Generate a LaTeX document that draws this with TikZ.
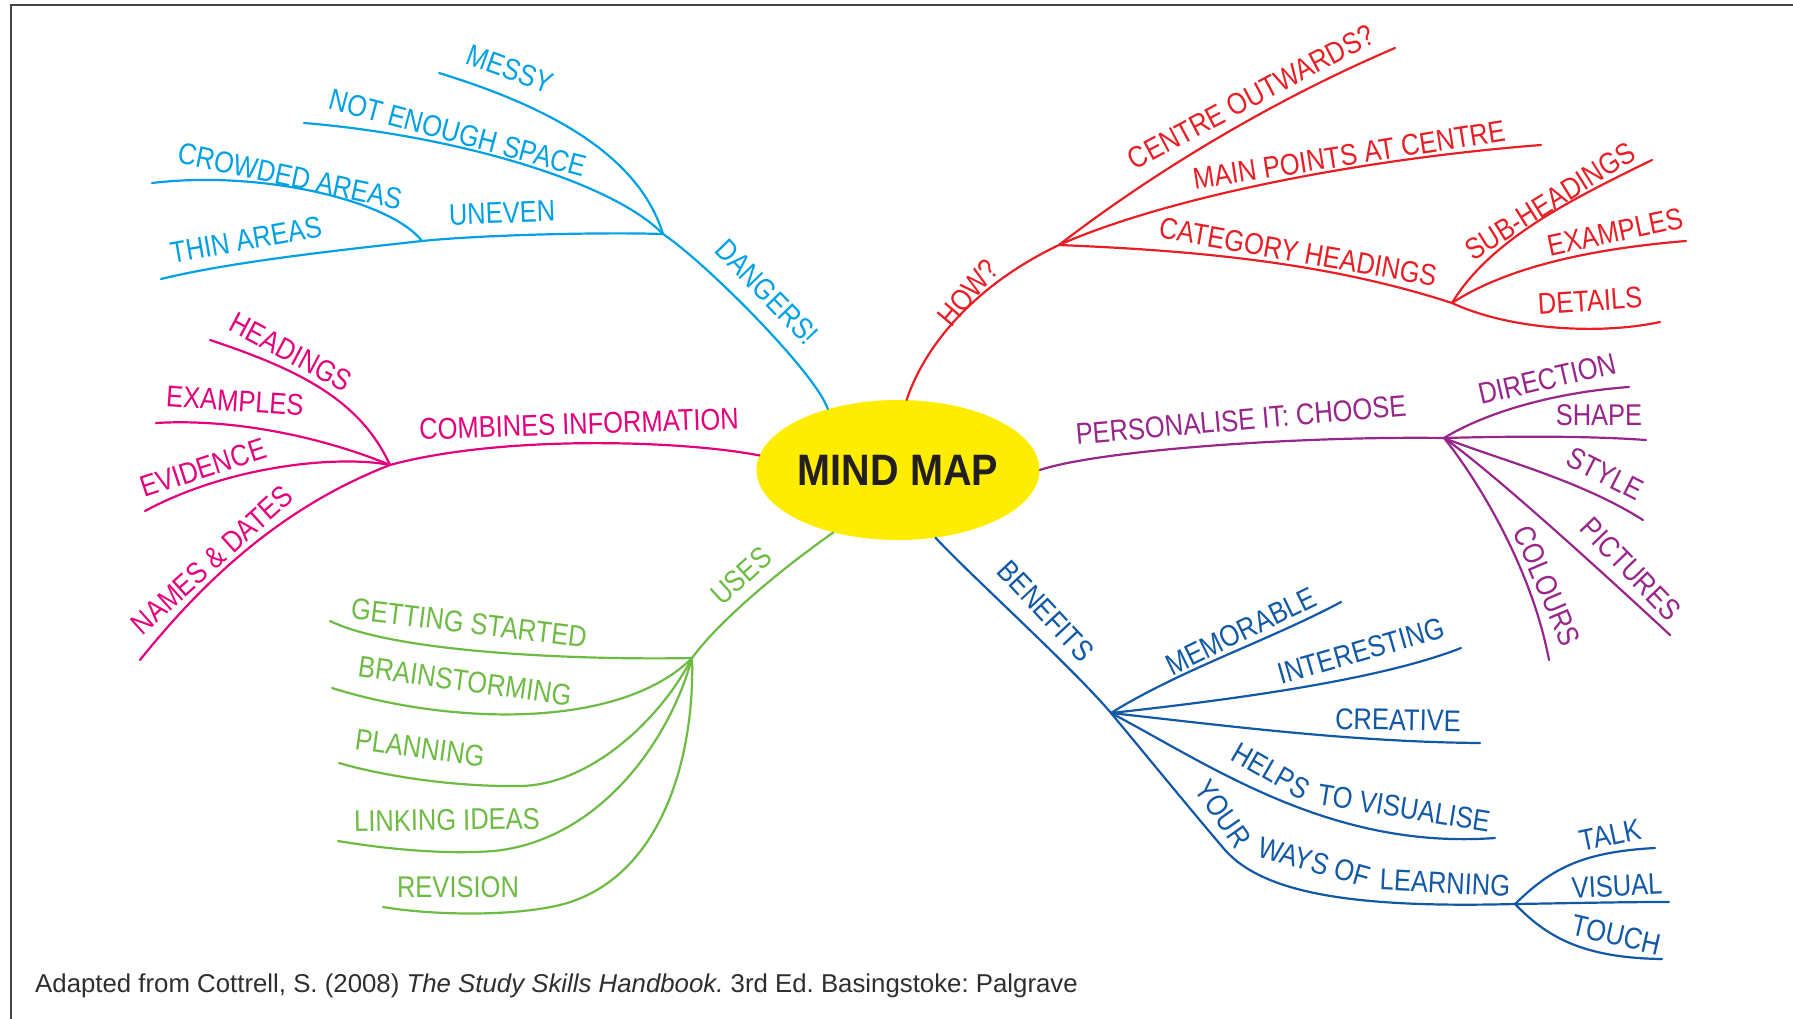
\documentclass[tikz,border=0pt]{standalone}
\usepackage{fontspec}
\setmainfont{Liberation Sans}
\newfontfamily\hand[FakeStretch=0.85]{Liberation Sans}
\newfontfamily\mmfont[FakeStretch=0.9]{Liberation Sans Bold}
\usetikzlibrary{shapes.geometric}
\definecolor{cdang}{RGB}{0,161,228}
\definecolor{cmag}{RGB}{228,0,124}
\definecolor{cgrn}{RGB}{110,187,68}
\definecolor{cblu}{RGB}{17,88,166}
\definecolor{cred}{RGB}{232,30,37}
\definecolor{cpur}{RGB}{152,37,138}
\definecolor{cyel}{RGB}{255,237,0}
\definecolor{ink}{RGB}{35,31,32}
\tikzset{
  br/.style={line width=2.2pt, line cap=round},
  lab/.style={font=\hand\fontsize{30}{32}\selectfont, inner sep=0pt, anchor=center},
  frameline/.style={line width=2pt, draw=black!72},
}
\frenchspacing
\begin{document}
\begin{tikzpicture}[x=1pt,y=-1pt]
\useasboundingbox (0,0) rectangle (1793,1019);
\draw[frameline] (1793,5.5) -- (10.5,5.5) -- (10.5,1019);

% centre
\node[ellipse, fill=cyel, inner sep=0pt, minimum width=278pt, minimum height=140pt,
      font=\mmfont\fontsize{44}{48}\selectfont, text=ink] (mm) at (898,470) {MIND MAP};

% junction coordinates
\coordinate (jd) at (663,234);
\coordinate (jc) at (422,241);
\coordinate (jm) at (390,465);
\coordinate (jg) at (692,658);
\coordinate (jb) at (1111,713);
\coordinate (jy) at (1515,904);
\coordinate (jh) at (1059,245);
\coordinate (jc2) at (1452,303);
\coordinate (jp) at (1444,438);

% end coordinates
\coordinate (eMessy) at (439,73);
\coordinate (eNes) at (304,123);
\coordinate (eThin) at (161,279);
\coordinate (eCrowd) at (152,183);
\coordinate (eHead) at (210,340);
\coordinate (eEx) at (156,423);
\coordinate (eEvid) at (145,511);
\coordinate (eNames) at (140,660);
\coordinate (eGet) at (330,621);
\coordinate (eBrain) at (332,688);
\coordinate (ePlan) at (339,763);
\coordinate (eLink) at (338,841);
\coordinate (eRev) at (383,907);
\coordinate (eMem) at (1341,602);
\coordinate (eInt) at (1461,648);
\coordinate (eCre) at (1480,743);
\coordinate (eHelp) at (1495,838);
\coordinate (eTalk) at (1655,848);
\coordinate (eVis) at (1669,902);
\coordinate (eTouch) at (1662,959);
\coordinate (eCentre) at (1395,48);
\coordinate (eMain) at (1541,145);
\coordinate (eSub) at (1652,160);
\coordinate (eRex) at (1686,241);
\coordinate (eDet) at (1660,322);
\coordinate (eDir) at (1629,387);
\coordinate (eShape) at (1646,440);
\coordinate (eStyle) at (1643,520);
\coordinate (ePic) at (1670,635);
\coordinate (eCol) at (1549,660);

% ---- cyan: dangers
\begin{scope}[br, draw=cdang]
\draw (mm.139) .. controls (815,372) and (705,262) .. (jd);
\draw (jd) .. controls (640,160) and (560,110) .. (eMessy);
\draw (jd) .. controls (610,180) and (450,135) .. (eNes);
\draw (jd) .. controls (600,232) and (480,235) .. (jc);
\draw (jc) .. controls (340,250) and (230,262) .. (eThin);
\draw (jc) .. controls (390,200) and (260,170) .. (eCrowd);
\end{scope}
\begin{scope}[lab, text=cdang]
\node[rotate=-20] (tMessy) at (510,69) {MESSY};
\node[rotate=-15] (tNes) at (458,133) {NOT ENOUGH SPACE};
\node[rotate=-12] (tCrowd) at (290,176) {CROWDED AREAS};
\node[rotate=2] (tUneven) at (502,213) {UNEVEN};
\node[rotate=10] (tThin) at (246,240) {THIN AREAS};
\node[rotate=-46] (tDang) at (767,292) {DANGERS!};
\end{scope}

% ---- magenta: combines information
\begin{scope}[br, draw=cmag]
\draw (mm.174) .. controls (680,440) and (500,435) .. (jm);
\draw (jm) .. controls (360,400) and (300,370) .. (eHead);
\draw (jm) .. controls (330,440) and (240,418) .. (eEx);
\draw (jm) .. controls (340,455) and (230,465) .. (eEvid);
\draw (jm) .. controls (300,500) and (220,560) .. (eNames);
\end{scope}
\begin{scope}[lab, text=cmag]
\node[rotate=2] (tComb) at (579,424) {COMBINES INFORMATION};
\node[rotate=-28] (tHead) at (291,352) {HEADINGS};
\node[rotate=-4] (tEx) at (235,401) {EXAMPLES};
\node[rotate=18] (tEvid) at (203,468) {EVIDENCE};
\node[rotate=42] (tNames) at (212,560) {NAMES \& DATES};
\end{scope}

% ---- green: uses
\begin{scope}[br, draw=cgrn]
\draw (mm.224) .. controls (780,570) and (720,620) .. (jg);
\draw (jg) .. controls (600,660) and (400,655) .. (eGet);
\draw (jg) .. controls (620,730) and (450,725) .. (eBrain);
\draw (jg) .. controls (660,720) and (590,785) .. (520,786) .. controls (450,787) and (380,775) .. (ePlan);
\draw (jg) .. controls (670,740) and (600,840) .. (494,851) .. controls (440,855) and (380,848) .. (eLink);
\draw (jg) .. controls (695,760) and (660,880) .. (560,905) .. controls (510,917) and (430,915) .. (eRev);
\end{scope}
\begin{scope}[lab, text=cgrn]
\node[rotate=42] (tUses) at (741,576) {USES};
\node[rotate=-7] (tGet) at (469,623) {GETTING STARTED};
\node[rotate=-8] (tBrain) at (465,681) {BRAINSTORMING};
\node[rotate=-8] (tPlan) at (420,748) {PLANNING};
\node[rotate=1] (tLink) at (447,820) {LINKING IDEAS};
\node[rotate=0] (tRev) at (458,887) {REVISION};
\end{scope}

% ---- dark blue: benefits
\begin{scope}[br, draw=cblu]
\draw (mm.299) .. controls (970,575) and (1070,665) .. (jb);
\draw (jb) .. controls (1180,670) and (1270,640) .. (eMem);
\draw (jb) .. controls (1230,700) and (1380,680) .. (eInt);
\draw (jb) .. controls (1220,725) and (1350,742) .. (eCre);
\draw (jb) .. controls (1210,765) and (1330,850) .. (eHelp);
\draw (jb) .. controls (1150,760) and (1195,815) .. (1225,850) .. controls (1265,895) and (1360,908) .. (jy);
\draw (jy) .. controls (1550,870) and (1580,852) .. (eTalk);
\draw (jy) .. controls (1580,903) and (1620,902) .. (eVis);
\draw (jy) .. controls (1545,935) and (1580,958) .. (eTouch);
\end{scope}
\begin{scope}[lab, text=cblu]
\node[rotate=-47] (tBen) at (1046,611) {BENEFITS};
\node[rotate=26] (tMem) at (1241,631) {MEMORABLE};
\node[rotate=16] (tInt) at (1361,651) {INTERESTING};
\node[rotate=-1] (tCre) at (1398,720) {CREATIVE};
\node[rotate=-30] (tHelpA) at (1271,771) {HELPS};
\node[rotate=-9] (tHelpB) at (1404,808) {TO VISUALISE};
\node[rotate=-55] (tYourA) at (1223,814) {YOUR};
\node[rotate=-16] (tYourB) at (1314,862) {WAYS OF};
\node[rotate=-3] (tYourC) at (1445,883) {LEARNING};
\node[rotate=12] (tTalk) at (1610,835) {TALK};
\node[rotate=3] (tVis) at (1617,886) {VISUAL};
\node[rotate=-13] (tTouch) at (1616,935) {TOUCH};
\end{scope}

% ---- red: how?
\begin{scope}[br, draw=cred]
\draw (mm.83) .. controls (925,345) and (975,285) .. (jh);
\draw (jh) .. controls (1130,190) and (1250,110) .. (eCentre);
\draw (jh) .. controls (1160,200) and (1350,160) .. (eMain);
\draw (jh) .. controls (1180,250) and (1320,260) .. (jc2);
\draw (jc2) .. controls (1490,240) and (1570,200) .. (eSub);
\draw (jc2) .. controls (1510,265) and (1600,248) .. (eRex);
\draw (jc2) .. controls (1510,330) and (1600,335) .. (eDet);
\end{scope}
\begin{scope}[lab, text=cred]
\node[rotate=50] (tHow) at (968,293) {HOW?};
\node[rotate=28] (tCentre) at (1251,97) {CENTRE OUTWARDS?};
\node[rotate=9] (tMain) at (1349,155) {MAIN POINTS AT CENTRE};
\node[rotate=-10] (tCat) at (1298,252) {CATEGORY HEADINGS};
\node[rotate=32] (tSub) at (1550,201) {SUB-HEADINGS};
\node[rotate=12] (tRex) at (1615,232) {EXAMPLES};
\node[rotate=4] (tDet) at (1590,301) {DETAILS};
\end{scope}

% ---- purple: personalise
\begin{scope}[br, draw=cpur]
\draw (mm.0) .. controls (1100,450) and (1300,436) .. (jp);
\draw (jp) .. controls (1490,410) and (1560,392) .. (eDir);
\draw (jp) .. controls (1520,436) and (1590,436) .. (eShape);
\draw (jp) .. controls (1500,460) and (1580,480) .. (eStyle);
\draw (jp) .. controls (1490,470) and (1600,570) .. (ePic);
\draw (jp) .. controls (1470,470) and (1530,560) .. (eCol);
\end{scope}
\begin{scope}[lab, text=cpur]
\node[rotate=5] (tPers) at (1241,420) {PERSONALISE IT: CHOOSE};
\node[rotate=13] (tDir) at (1547,379) {DIRECTION};
\node[rotate=0] (tShape) at (1599,415) {SHAPE};
\node[rotate=-27] (tStyle) at (1605,474) {STYLE};
\node[rotate=-46] (tPic) at (1631,569) {PICTURES};
\node[rotate=-67] (tCol) at (1547,586) {COLOURS};
\end{scope}

% caption
\node[anchor=base west, inner sep=0pt, font=\fontsize{25.8}{30}\selectfont, text=black!82] (cap) at (35,992)
  {Adapted from Cottrell, S. (2008) \textit{The Study Skills Handbook.} 3rd Ed. Basingstoke: Palgrave};
\end{tikzpicture}
\end{document}
